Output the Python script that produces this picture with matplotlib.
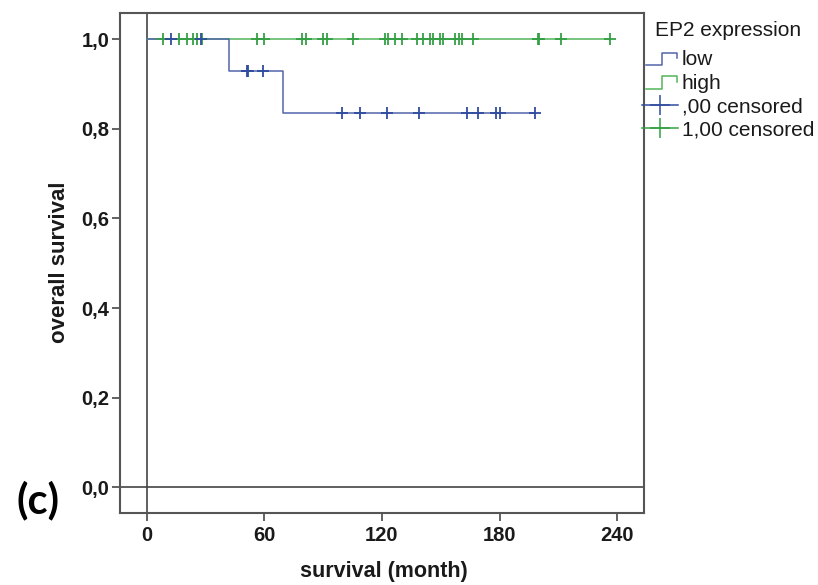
import numpy as np
import matplotlib
matplotlib.use("Agg")
import matplotlib.pyplot as plt
from matplotlib.lines import Line2D
from matplotlib.legend_handler import HandlerBase

# ---------------- data ----------------
# low EP2 expression: Kaplan-Meier step curve
low_times = [0, 42.1, 69.7, 198.0]
low_surv = [1.0, 0.929, 0.836, 0.836]
low_censor_times = [12.4, 27.7, 51.0, 51.6, 59.2, 99.7, 108.8, 122.7, 139.0,
                    163.5, 169.1, 178.1, 180.2, 198.0]

# high EP2 expression: no events
high_times = [0, 236.3]
high_surv = [1.0, 1.0]
high_censor_times = [8.2, 16.6, 20.4, 23.8, 25.8, 28.0, 56.1, 59.8, 79.3, 81.1,
                     90.1, 92.1, 105.4, 121.5, 123.2, 126.6, 130.0, 138.0, 141.0,
                     144.4, 146.1, 149.5, 150.9, 157.2, 159.2, 160.6, 166.5,
                     199.4, 200.0, 211.1, 236.3]

x_ticks = [0, 60, 120, 180, 240]
y_ticks = [0.0, 0.2, 0.4, 0.6, 0.8, 1.0]
y_ticklabels = ["0,0", "0,2", "0,4", "0,6", "0,8", "1,0"]

legend_title = "EP2 expression"
legend_labels = ["low", "high", ",00 censored", "1,00 censored"]


def step_value(times, surv, t):
    idx = np.searchsorted(times, t, side="right") - 1
    return np.asarray(surv)[np.clip(idx, 0, len(surv) - 1)]


# ---------------- style ----------------
BLUE_LINE = "#5265a9"
BLUE_MARK = "#2f4c9f"
GREEN_LINE = "#52b45a"
GREEN_MARK = "#34a043"
FRAME = "#555555"

FONT = "Liberation Sans"

fig = plt.figure(figsize=(8.18, 5.85), dpi=100)
W, H = 818, 585
ax = fig.add_axes([120 / W, 1 - 512.5 / H, (644 - 120) / W, (512.5 - 12.7) / H])

# reference lines at 0
ax.axvline(0, color="#444444", lw=1.2, zorder=1)
ax.axhline(0, color="#444444", lw=1.2, zorder=1)

# curves
ax.step(high_times, high_surv, where="post", color=GREEN_LINE, lw=1.1, zorder=2)
ax.step(low_times, low_surv, where="post", color=BLUE_LINE, lw=1.1, zorder=3)

# censor marks
ax.plot(high_censor_times, step_value(high_times, high_surv, high_censor_times),
        ls="none", marker="+", ms=9, mew=1.3, color=GREEN_MARK, zorder=4)
ax.plot(low_censor_times, step_value(low_times, low_surv, low_censor_times),
        ls="none", marker="+", ms=9, mew=1.3, color=BLUE_MARK, zorder=5)

ax.set_xlim(-13.6, 253.6)
ax.set_ylim(-0.056, 1.059)

ax.set_xticks(x_ticks)
ax.set_xticklabels([str(v) for v in x_ticks])
ax.set_yticks(y_ticks)
ax.set_yticklabels(y_ticklabels)

for lab in ax.get_xticklabels() + ax.get_yticklabels():
    lab.set_fontfamily(FONT)
    lab.set_fontweight("bold")
    lab.set_fontsize(14.5)
    lab.set_color("#1a1a1a")

ax.tick_params(axis="x", direction="out", length=6, width=1.3, color=FRAME, pad=3.5)
ax.tick_params(axis="y", direction="out", length=6, width=1.3, color=FRAME, pad=1.5)

for sp in ax.spines.values():
    sp.set_color(FRAME)
    sp.set_linewidth(1.5)

ax.set_xlabel("survival (month)", fontfamily=FONT, fontweight="bold", fontsize=15.5,
              color="#1a1a1a")
ax.xaxis.set_label_coords(384 / W, 1 - 561 / H, transform=fig.transFigure)
ax.set_ylabel("overall survival", fontfamily=FONT, fontweight="bold", fontsize=16,
              color="#1a1a1a")
ax.yaxis.set_label_coords(70 / W, 1 - 262 / H, transform=fig.transFigure)


# ---------------- legend ----------------
class StepHandler(HandlerBase):
    def create_artists(self, legend, orig_handle, xdescent, ydescent, width,
                       height, fontsize, trans):
        x0 = -xdescent
        y0 = -ydescent
        xs = [x0 + 0.12 * width, x0 + 0.55 * width, x0 + 0.55 * width,
              x0 + 0.97 * width, x0 + 0.97 * width]
        ys = [y0 + 0.0 * height, y0 + 0.0 * height, y0 + 0.85 * height,
              y0 + 0.85 * height, y0 + 0.45 * height]
        ln = Line2D(xs, ys, color=orig_handle.get_color(), lw=1.1,
                    transform=trans)
        return [ln]


h_low = Line2D([], [], color=BLUE_LINE)
h_high = Line2D([], [], color=GREEN_LINE)
h_c0 = Line2D([], [], color=BLUE_MARK, lw=1.1, marker="+", ms=15, mew=1.1)
h_c1 = Line2D([], [], color=GREEN_MARK, lw=1.1, marker="+", ms=15, mew=1.1)

fig.text(655 / W, 1 - 21 / H, legend_title, ha="left", va="top",
         fontfamily=FONT, fontsize=15, color="#1a1a1a")

leg = fig.legend([h_low, h_high, h_c0, h_c1], legend_labels,
                 loc="upper left", bbox_to_anchor=(642 / W, 1 - 50 / H),
                 frameon=False, borderpad=0, borderaxespad=0,
                 handlelength=1.75, handletextpad=0.15, labelspacing=0.22,
                 handleheight=0.7, numpoints=1,
                 prop={"family": FONT, "size": 15},
                 handler_map={h_low: StepHandler(), h_high: StepHandler()})
for t in leg.get_texts():
    t.set_color("#1a1a1a")

# panel label
fig.text(38 / W, 1 - 500 / H, "(c)", ha="center", va="center",
         fontfamily="Lato", fontweight="bold", fontsize=30, color="black")

fig.savefig("out.png", dpi=100)
